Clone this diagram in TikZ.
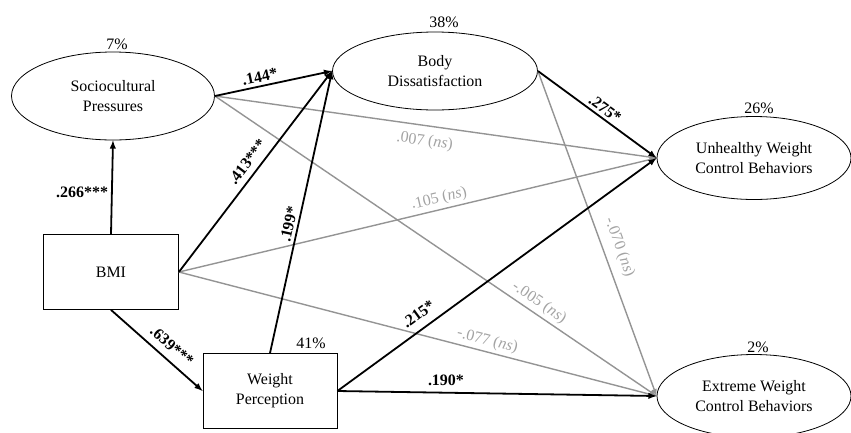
\documentclass[tikz,border=0pt]{standalone}
\usepackage{fontspec}
\setmainfont{Liberation Serif}
\usetikzlibrary{arrows, shapes.geometric, positioning}

\begin{document}
\begin{tikzpicture}[x=1bp, y=-1bp]
	\tikzstyle{every node} = [font=\fontsize{16}{20}\selectfont]
	\tikzstyle{latent} = [draw, ellipse, line width=0.8bp, inner sep=0pt, align=center]
	\tikzstyle{observed} = [draw, rectangle, line width=0.8bp, minimum width=135bp, minimum height=75bp, inner sep=0pt, align=center]
	\tikzstyle{pct} = [inner sep=1pt]
	\tikzstyle{sig} = [draw=black, line width=1.8bp, -latex]
	\tikzstyle{nonsig} = [draw=black!42, line width=1.4bp, -latex]
	\tikzstyle{coef} = [font=\fontsize{16}{20}\selectfont\bfseries, sloped, inner sep=3pt]
	\tikzstyle{nscoef} = [text=black!36, sloped, inner sep=3pt]
	\useasboundingbox (0,0) rectangle (851,432);

	% variables
	\node [latent, minimum width=203bp, minimum height=88bp] (soc) at (113,96) {Sociocultural\\Pressures}; \node [latent, minimum width=205bp, minimum height=78bp] (bd) at (435,71) {Body\\Dissatisfaction};
	\node [latent, minimum width=194bp, minimum height=83bp] (uwcb) at (754,158) {Unhealthy Weight\\Control Behaviors}; \node [latent, minimum width=194bp, minimum height=83bp] (ewcb) at (754,396) {Extreme Weight\\Control Behaviors};
	\node [observed] (bmi) at (111,272) {BMI}; \node [observed, minimum width=134bp] (wp) at (270,391) {Weight\\Perception};

	% explained variance
	\node [pct, above=1bp of soc, xshift=4bp] (socr2) {7\%}; \node [pct, above=3bp of bd, xshift=9bp] (bdr2) {38\%}; \node [pct, above=1bp of uwcb, xshift=5bp] (uwcbr2) {26\%}; \node [pct, above=0bp of ewcb, xshift=4bp] (ewcbr2) {2\%}; \node [pct, above=3bp of wp.north, xshift=41bp] (wpr2) {41\%};

	% non-significant paths
	\draw [nonsig] (soc.east) -- node [nscoef, below=5bp, pos=0.48] (c1) {.007 (\textit{ns})} (uwcb.west); \draw [nonsig] (bmi.east) -- node [nscoef, above, pos=0.55] (c2) {.105 (\textit{ns})} (uwcb.west);
	\draw [nonsig] (soc.east) -- node [nscoef, above, pos=0.72] (c3) {-.005 (\textit{ns})} (ewcb.west); \draw [nonsig] (bmi.east) -- node [nscoef, above, pos=0.64] (c4) {-.077 (\textit{ns})} (ewcb.west);
	\draw [nonsig] (bd.east) -- node [nscoef, above=5bp, pos=0.56] (c5) {-.070 (\textit{ns})} (ewcb.west);

	% significant paths
	\draw [sig] (bmi.north) -- node [coef, left, sloped=false, pos=0.45] (c6) {.266***} (soc.south); \draw [sig] (bmi.south) -- node [coef, above=4bp, pos=0.57] (c7) {.639***} (wp.west);
	\draw [sig] (soc.east) -- node [coef, above, pos=0.4] (c8) {.144*} (bd.west); \draw [sig] (bmi.east) -- node [coef, above=3bp, pos=0.51] (c9) {.413***} (bd.west); \draw [sig] (wp.north) -- node [coef, above, pos=0.45] (c10) {.199*} (bd.west);
	\draw [sig] (bd.east) -- node [coef, above, pos=0.52] (c11) {.275*} (uwcb.west); \draw [sig] (wp.east) -- node [coef, above=5bp, pos=0.28] (c12) {.215*} (uwcb.west); \draw [sig] (wp.east) -- node [coef, above=3bp, sloped=false, pos=0.34] (c13) {.190*} (ewcb.west);
\end{tikzpicture}
\end{document}
